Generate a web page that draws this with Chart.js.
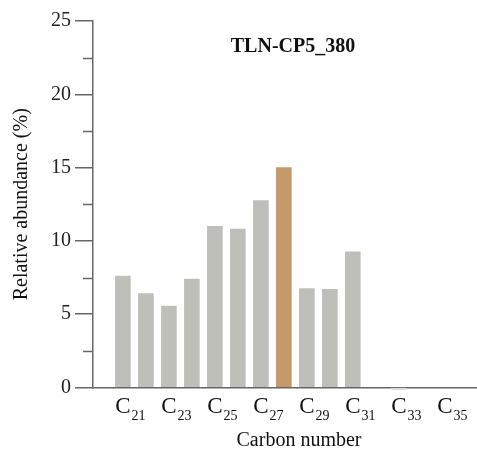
<!DOCTYPE html>
<html>
<head>
<meta charset="utf-8">
<script src="https://cdn.jsdelivr.net/npm/chart.js@4.4.1/dist/chart.umd.min.js"></script>
<style>
  html, body { margin: 0; padding: 0; background: #fff; }
  #wrap { width: 477px; height: 451px; position: relative; }
</style>
</head>
<body>
<div id="wrap"><canvas id="chart"></canvas></div>
<script>
// carbon chain lengths and their relative abundance (%); null = not detected
const carbons = [21, 22, 23, 24, 25, 26, 27, 28, 29, 30, 31, 32, 33, 34, 35];
const abundance = [7.6, 6.4, 5.55, 7.4, 11.0, 10.8, 12.75, 15.0, 6.75, 6.7, 9.25, null, -0.15, null, null];
const highlightCarbon = 28;
const xTickCarbons = [21, 23, 25, 27, 29, 31, 33, 35];
const yTicks = [0, 5, 10, 15, 20, 25];
const yMinorTicks = [2.5, 7.5, 12.5, 17.5, 22.5];

const SERIF = "'Liberation Serif', 'Times New Roman', serif";
const AXIS = "#666";
const GREY = "#bfbfba";
const ORANGE = "#c49a6b";

// minor y ticks, subscripted x labels, x title and the inner title
const decorPlugin = {
  id: "decor",
  afterDraw(chart) {
    const { ctx, scales } = chart;
    const x0 = scales.y.right;
    ctx.save();
    ctx.strokeStyle = AXIS;
    ctx.lineWidth = 1.5;
    yMinorTicks.forEach((v) => {
      const y = Math.round(scales.y.getPixelForValue(v)) + 0.5;
      ctx.beginPath();
      ctx.moveTo(x0 - 10, y);
      ctx.lineTo(x0, y);
      ctx.stroke();
    });

    ctx.fillStyle = "#111";
    ctx.textBaseline = "alphabetic";
    xTickCarbons.forEach((c) => {
      const x = scales.x.getPixelForValue(c);
      ctx.font = `23px ${SERIF}`;
      const w = ctx.measureText("C").width;
      ctx.textAlign = "center";
      ctx.fillText("C", x, 413);
      ctx.font = `14px ${SERIF}`;
      ctx.textAlign = "left";
      ctx.fillText(String(c), x + w / 2 + 1, 420);
    });

    ctx.textAlign = "center";
    ctx.font = `20px ${SERIF}`;
    ctx.fillText("Carbon number", 299, 446);
    ctx.font = `bold 20px ${SERIF}`;
    ctx.fillText("TLN-CP5_380", 293, 52);
    ctx.restore();
  },
};

new Chart(document.getElementById("chart"), {
  type: "bar",
  data: {
    datasets: [{
      data: carbons.map((c, i) => ({ x: c, y: abundance[i] })),
      backgroundColor: carbons.map((c, i) => (c === highlightCarbon ? ORANGE : abundance[i] < 0 ? "#ddd" : GREY)),
      barThickness: 15,
      clip: false,
    }],
  },
  options: {
    responsive: true,
    maintainAspectRatio: false,
    animation: false,
    layout: { padding: { top: 21, right: 0, bottom: 0, left: 0 } },
    scales: {
      x: {
        type: "linear",
        offset: false,
        min: 19.7,
        max: 36.4,
        grid: { display: false },
        border: { color: AXIS, width: 1.5 },
        ticks: { display: false },
        afterFit(scale) { scale.height = 63.5; },
      },
      y: {
        min: 0,
        max: 25,
        afterBuildTicks(scale) { scale.ticks = yTicks.map((v) => ({ value: v })); },
        grid: { drawOnChartArea: false, drawTicks: true, tickLength: 18, color: AXIS, lineWidth: 1.5 },
        border: { color: AXIS, width: 1.5 },
        ticks: { color: "#222", padding: 4, font: { family: SERIF, size: 20 } },
        title: {
          display: true,
          text: "Relative abundance (%)",
          color: "#111",
          font: { family: SERIF, size: 20 },
          padding: { top: 10, bottom: 0 },
        },
        afterFit(scale) { scale.width = 93; },
      },
    },
    plugins: { legend: { display: false }, tooltip: { enabled: false } },
  },
  plugins: [decorPlugin],
});
</script>
</body>
</html>
